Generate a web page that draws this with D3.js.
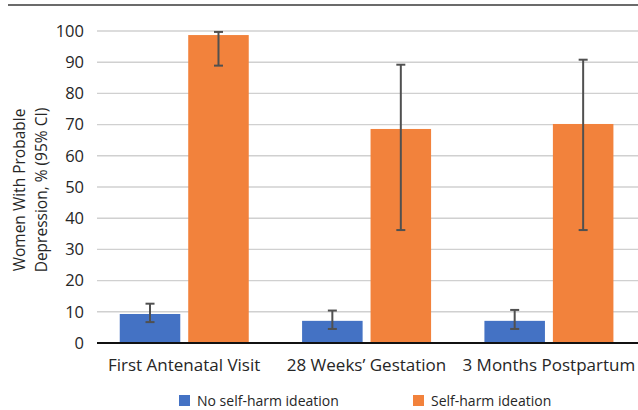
<!DOCTYPE html>
<html>
<head>
<meta charset="utf-8">
<script src="https://cdn.jsdelivr.net/npm/d3@7"></script>
<style>
  html, body { margin: 0; padding: 0; background: #fff; }
  svg { display: block; }
  text { font-family: "Open Sans", "Noto Sans", sans-serif; fill: #262626; }
</style>
</head>
<body>
<svg id="chart" width="638" height="410"></svg>
<script>
// Time points and series
const categories = ["First Antenatal Visit", "28 Weeks\u2019 Gestation", "3 Months Postpartum"];
const seriesNames = ["No self-harm ideation", "Self-harm ideation"];
const seriesColors = ["#4472c4", "#f2823c"];

// Percent of women with probable depression, with 95% CI bounds
const noIdeation = [9.3, 7.1, 7.1];
const noIdeationLow = [6.7, 4.5, 4.5];
const noIdeationHigh = [12.6, 10.4, 10.6];

const ideation = [98.7, 68.6, 70.2];
const ideationLow = [88.9, 36.2, 36.2];
const ideationHigh = [99.7, 89.2, 90.8];

const yTicks = [0, 10, 20, 30, 40, 50, 60, 70, 80, 90, 100];

const svg = d3.select("#chart");

const plot = { left: 97, right: 638, top: 31, bottom: 343 };

const x = d3.scaleBand().domain(categories).range([93, 640]);
const inner = d3.scaleBand().domain(seriesNames).range([26.75, 182.5 - 26.75]).paddingInner(0.116);
const y = d3.scaleLinear().domain([0, 100]).range([plot.bottom, plot.top]);

// top rule
svg.append("line")
  .attr("x1", 8).attr("x2", 638).attr("y1", 5).attr("y2", 5)
  .attr("stroke", "#3a3a3a").attr("stroke-width", 1.6);

// gridlines
svg.append("g").selectAll("line").data(yTicks.filter(t => t > 0)).join("line")
  .attr("x1", plot.left).attr("x2", plot.right)
  .attr("y1", d => y(d)).attr("y2", d => y(d))
  .attr("stroke", "#d0d0d0").attr("stroke-width", 1.4);

// y axis tick labels
const yAxis = d3.axisLeft(y).tickValues(yTicks).tickSize(0).tickPadding(0);
const yg = svg.append("g").attr("transform", `translate(84,0)`).call(yAxis);
yg.select(".domain").remove();
yg.selectAll("text").attr("font-size", 16.5).attr("fill", "#262626")
  .style("font-family", '"Open Sans", sans-serif');

// y axis title
const yTitle = svg.append("text")
  .attr("transform", `translate(0,190) rotate(-90)`)
  .attr("text-anchor", "middle").attr("font-size", 15.5);
yTitle.append("tspan").attr("x", 0).attr("y", 25).text("Women With Probable");
yTitle.append("tspan").attr("x", 0).attr("y", 47).text("Depression, % (95% CI)");

const groups = [
  { name: seriesNames[0], vals: noIdeation, lo: noIdeationLow, hi: noIdeationHigh, color: seriesColors[0] },
  { name: seriesNames[1], vals: ideation, lo: ideationLow, hi: ideationHigh, color: seriesColors[1] }
];

const rows = [];
groups.forEach(g => categories.forEach((c, i) => rows.push({ cat: c, s: g.name, v: g.vals[i], lo: g.lo[i], hi: g.hi[i], color: g.color })));

// bars
svg.append("g").selectAll("rect").data(rows).join("rect")
  .attr("x", d => x(d.cat) + inner(d.s))
  .attr("width", inner.bandwidth())
  .attr("y", d => y(d.v))
  .attr("height", d => y(0) - y(d.v))
  .attr("fill", d => d.color);

// baseline
svg.append("line")
  .attr("x1", plot.left).attr("x2", plot.right).attr("y1", y(0)).attr("y2", y(0))
  .attr("stroke", "#111").attr("stroke-width", 2);

// error bars
const eb = svg.append("g").attr("stroke", "#505050").attr("stroke-width", 2);
rows.forEach(d => {
  const cx = x(d.cat) + inner(d.s) + inner.bandwidth() / 2;
  eb.append("line").attr("x1", cx).attr("x2", cx).attr("y1", y(d.hi)).attr("y2", y(d.lo));
  eb.append("line").attr("x1", cx - 4.5).attr("x2", cx + 4.5).attr("y1", y(d.hi)).attr("y2", y(d.hi));
  eb.append("line").attr("x1", cx - 4.5).attr("x2", cx + 4.5).attr("y1", y(d.lo)).attr("y2", y(d.lo));
});

// category labels
svg.append("g").selectAll("text").data(categories).join("text")
  .attr("x", d => x(d) + x.bandwidth() / 2)
  .attr("y", 371)
  .attr("text-anchor", "middle")
  .attr("font-size", 17)
  .text(d => d);

// legend
const legendX = [179, 413];
const lg = svg.append("g").selectAll("g").data(groups).join("g")
  .attr("transform", (d, i) => `translate(${legendX[i]},395)`);
lg.append("rect").attr("width", 11).attr("height", 11).attr("fill", d => d.color);
lg.append("text").attr("x", 18).attr("y", 10.5).attr("font-size", 14).text(d => d.name);
</script>
</body>
</html>
